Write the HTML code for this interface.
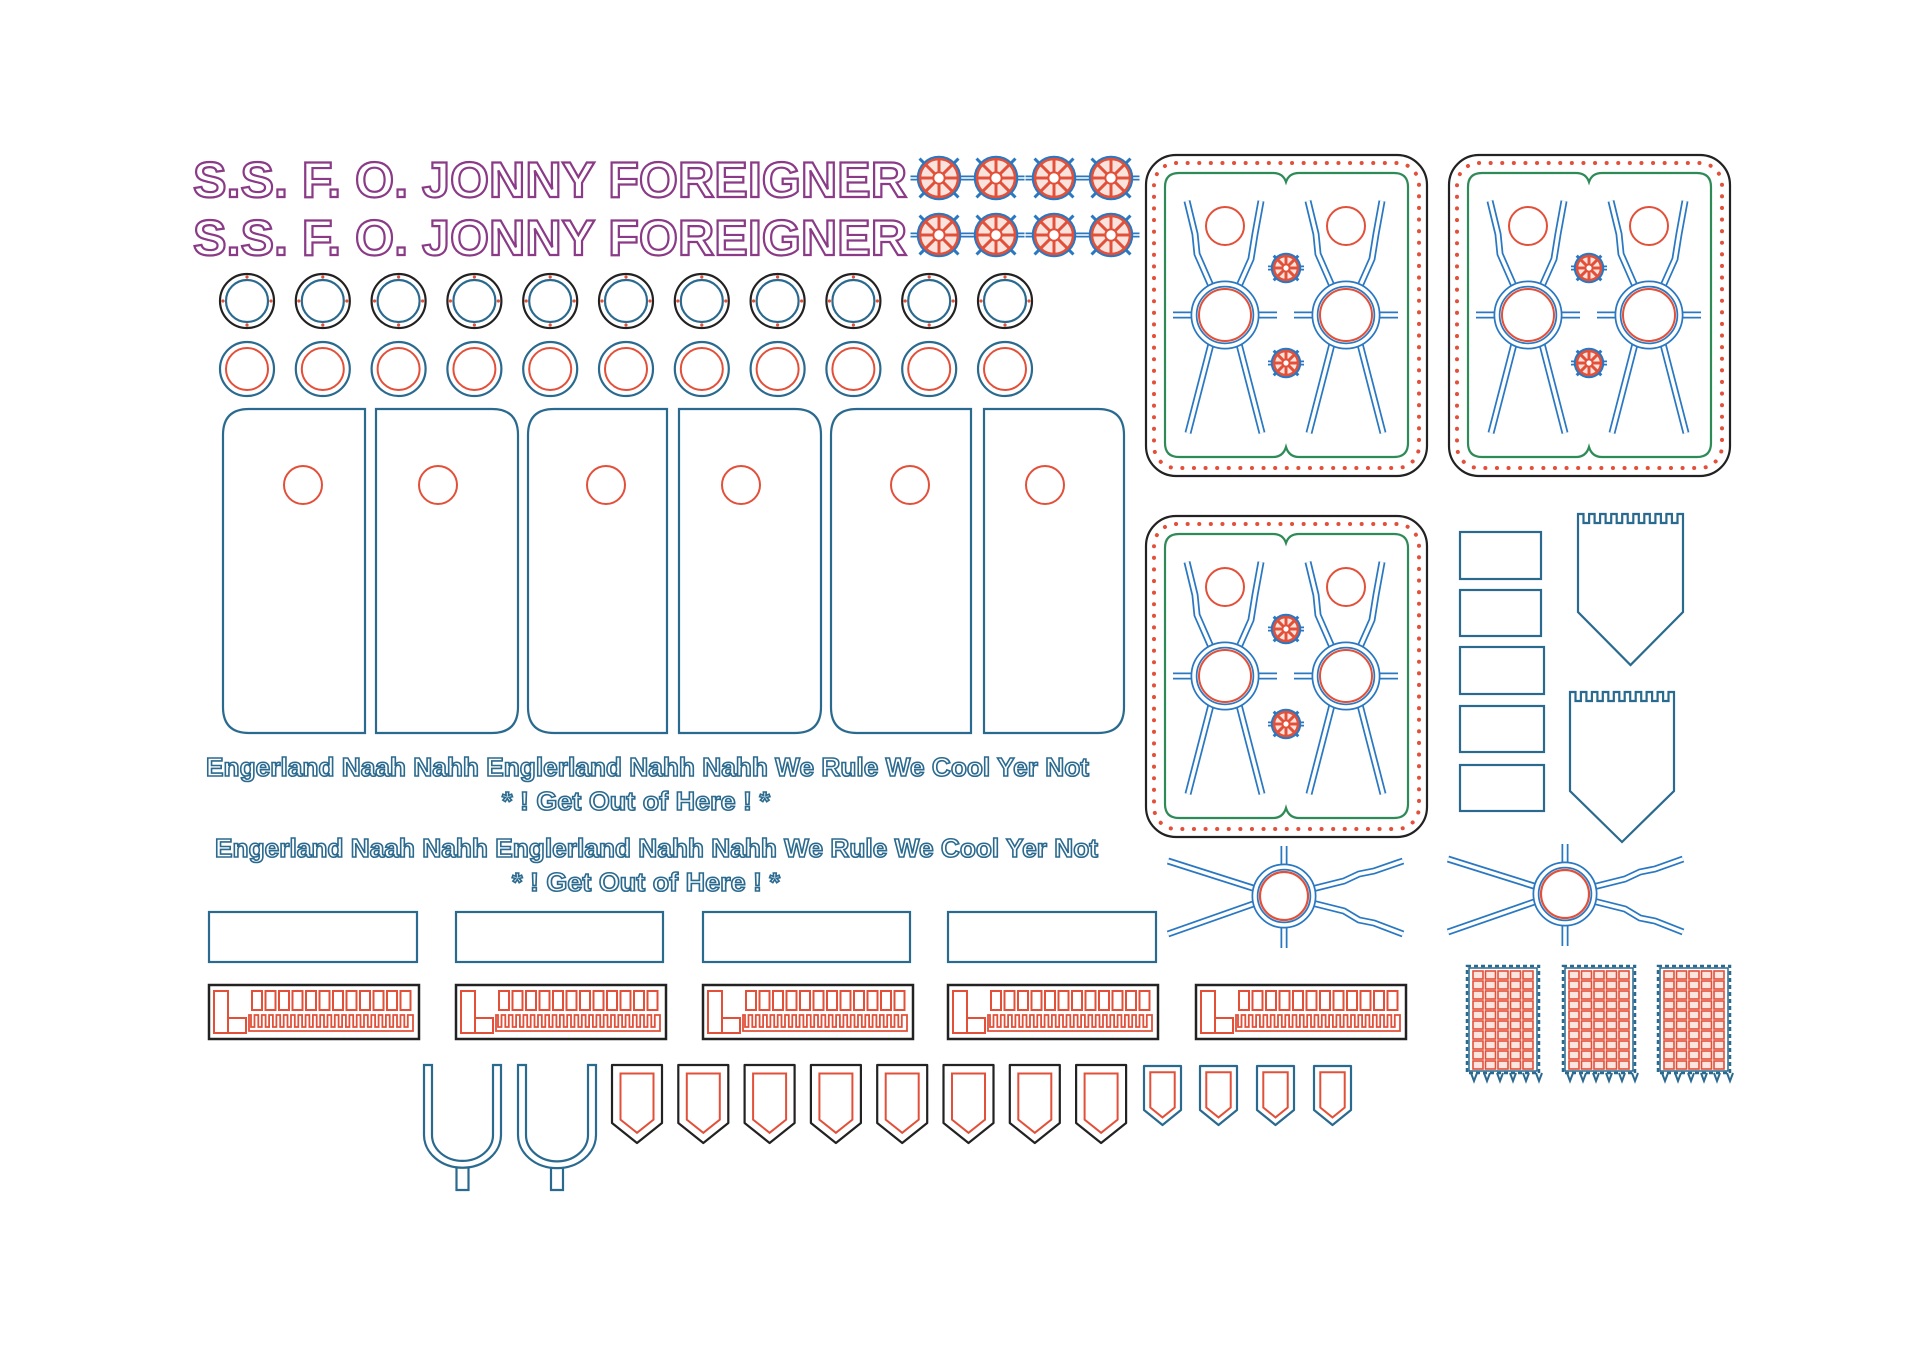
<!DOCTYPE html>
<html><head><meta charset="utf-8"><style>
html,body{margin:0;padding:0;background:#fff;}
svg{display:block;}
.t{font-family:"Liberation Sans",sans-serif;font-weight:bold;fill:#fff;}
</style></head><body>
<svg id="s" width="1920" height="1357" viewBox="0 0 1920 1357" xmlns="http://www.w3.org/2000/svg">
<rect width="1920" height="1357" fill="#fff"/>
<g id="shapes"></g>
<text class="t" x="193" y="197" font-size="50" textLength="714" lengthAdjust="spacingAndGlyphs" stroke="#8a3a86" stroke-width="2.2">S.S.  F. O.  JONNY  FOREIGNER</text>
<text class="t" x="193" y="255" font-size="50" textLength="714" lengthAdjust="spacingAndGlyphs" stroke="#8a3a86" stroke-width="2.2">S.S.  F. O.  JONNY  FOREIGNER</text>
<text class="t" x="206" y="776" font-size="26" textLength="883" lengthAdjust="spacingAndGlyphs" stroke="#2b6a8f" stroke-width="1.6">Engerland Naah Nahh Englerland Nahh Nahh We Rule We Cool Yer Not</text>
<text class="t" x="502" y="810" font-size="26" textLength="268" lengthAdjust="spacingAndGlyphs" stroke="#2b6a8f" stroke-width="1.6">*  ! Get Out of Here ! *</text>
<text class="t" x="215" y="857" font-size="26" textLength="883" lengthAdjust="spacingAndGlyphs" stroke="#2b6a8f" stroke-width="1.6">Engerland Naah Nahh Englerland Nahh Nahh We Rule We Cool Yer Not</text>
<text class="t" x="512" y="891" font-size="26" textLength="268" lengthAdjust="spacingAndGlyphs" stroke="#2b6a8f" stroke-width="1.6">*  ! Get Out of Here ! *</text>
</svg>
<script>
var o=[];
var DB='#2b6a8f',BL='#2a78c2',RD='#e2503a',GR='#2e8b57',BK='#222';
function p(s){o.push(s);}
function dbl(d,w){p('<path d="'+d+'" fill="none" stroke="'+BL+'" stroke-width="'+(w||7)+'" stroke-linejoin="round"/>');p('<path d="'+d+'" fill="none" stroke="#fff" stroke-width="'+((w||7)-3.5)+'" stroke-linejoin="round"/>');}
function dblc(cx,cy,r,w){p('<circle cx="'+cx+'" cy="'+cy+'" r="'+r+'" fill="none" stroke="'+BL+'" stroke-width="'+(w||7)+'"/>');p('<circle cx="'+cx+'" cy="'+cy+'" r="'+r+'" fill="none" stroke="#fff" stroke-width="'+((w||7)-3.5)+'"/>');}
function wheel(cx,cy,r){
 var b=r*1.5;
 dbl('M'+(cx-b)+' '+cy+'H'+(cx+b),5);
 for(var k=0;k<4;k++){var a=Math.PI/4+k*Math.PI/2;p('<line x1="'+cx+'" y1="'+cy+'" x2="'+(cx+Math.cos(a)*r*1.45)+'" y2="'+(cy+Math.sin(a)*r*1.45)+'" stroke="'+BL+'" stroke-width="3"/>');}
 p('<circle cx="'+cx+'" cy="'+cy+'" r="'+(r+2)+'" fill="none" stroke="'+BL+'" stroke-width="2.5"/>');
 p('<circle cx="'+cx+'" cy="'+cy+'" r="'+r+'" fill="#fbe3dd" stroke="'+RD+'" stroke-width="2.5"/>');
 for(var k=0;k<4;k++){var a=k*Math.PI/4;p('<line x1="'+(cx-Math.cos(a)*r)+'" y1="'+(cy-Math.sin(a)*r)+'" x2="'+(cx+Math.cos(a)*r)+'" y2="'+(cy+Math.sin(a)*r)+'" stroke="'+RD+'" stroke-width="3"/>');}
 p('<circle cx="'+cx+'" cy="'+cy+'" r="'+(r*0.3)+'" fill="#fff" stroke="'+RD+'" stroke-width="2"/>');
}
// title wheels
[939,996,1054,1111].forEach(function(x){[178,235].forEach(function(y){wheel(x,y,19);});});
// rings
for(var i=0;i<11;i++){var cx=247+75.8*i;
 p('<circle cx="'+cx+'" cy="301" r="27" fill="none" stroke="'+BK+'" stroke-width="2.2"/>');
 p('<circle cx="'+cx+'" cy="301" r="21" fill="none" stroke="'+DB+'" stroke-width="2.2"/>');
 [[0,-24],[0,24],[-24,0],[24,0]].forEach(function(d){p('<circle cx="'+(cx+d[0])+'" cy="'+(301+d[1])+'" r="1.6" fill="'+RD+'"/>');});
 p('<circle cx="'+cx+'" cy="369" r="27" fill="none" stroke="'+DB+'" stroke-width="2.2"/>');
 p('<circle cx="'+cx+'" cy="369" r="21" fill="none" stroke="'+RD+'" stroke-width="2"/>');
}
// doors
var doors=[[223,365,'L',303],[376,518,'R',438],[528,667,'L',606],[679,821,'R',741],[831,971,'L',910],[984,1124,'R',1045]];
doors.forEach(function(d){var x1=d[0],x2=d[1],y1=409,y2=733,r=26,s;
 if(d[2]=='L')s='M'+x2+' '+y1+'H'+(x1+r)+'Q'+x1+' '+y1+' '+x1+' '+(y1+r)+'V'+(y2-r)+'Q'+x1+' '+y2+' '+(x1+r)+' '+y2+'H'+x2+'Z';
 else s='M'+x1+' '+y1+'H'+(x2-r)+'Q'+x2+' '+y1+' '+x2+' '+(y1+r)+'V'+(y2-r)+'Q'+x2+' '+y2+' '+(x2-r)+' '+y2+'H'+x1+'Z';
 p('<path d="'+s+'" fill="none" stroke="'+DB+'" stroke-width="2.2"/>');
 p('<circle cx="'+d[3]+'" cy="485" r="19" fill="none" stroke="'+RD+'" stroke-width="2"/>');
});
// big panels
function panel(X,Y){
 p('<g transform="translate('+X+','+Y+')">');
 p('<rect x="1" y="1" width="281" height="321" rx="30" fill="none" stroke="'+BK+'" stroke-width="2.2"/>');
 p('<rect x="9" y="9" width="265" height="305" rx="22" fill="none" stroke="'+RD+'" stroke-width="4" stroke-dasharray="0.1 11.5" stroke-linecap="round"/>');
 p('<path d="M34 19H128Q138 19 141 28Q144 19 154 19H249Q263 19 263 33V289Q263 303 249 303H154Q144 303 141 293Q138 303 128 303H34Q20 303 20 289V33Q20 19 34 19Z" fill="none" stroke="'+GR+'" stroke-width="2.2"/>');
 [80,201].forEach(function(cx){
  dbl('M'+(cx-14)+' 190L'+(cx-37)+' 279');dbl('M'+(cx+14)+' 190L'+(cx+37)+' 279');
  dbl('M'+(cx-14)+' 132L'+(cx-28)+' 100L'+(cx-30)+' 80L'+(cx-38)+' 47');
  dbl('M'+(cx+14)+' 132L'+(cx+26)+' 105L'+(cx+30)+' 80L'+(cx+36)+' 47');
  dbl('M'+(cx-52)+' 161H'+(cx-33));dbl('M'+(cx+33)+' 161H'+(cx+52));
  dblc(cx,161,31);
  p('<circle cx="'+cx+'" cy="161" r="26" fill="none" stroke="'+RD+'" stroke-width="2"/>');
  p('<circle cx="'+cx+'" cy="72" r="19" fill="none" stroke="'+RD+'" stroke-width="2"/>');
 });
 wheel(141,114,12);wheel(141,209,12);
 p('</g>');
}
panel(1145,154);panel(1448,154);panel(1145,515);
// right small rects
[[1460,532,1541,579],[1460,590,1541,636],[1460,647,1544,694],[1460,706,1544,752],[1460,765,1544,811]].forEach(function(r){
 p('<rect x="'+r[0]+'" y="'+r[1]+'" width="'+(r[2]-r[0])+'" height="'+(r[3]-r[1])+'" fill="none" stroke="'+DB+'" stroke-width="2.2"/>');});
function tower(x1,x2,yt,ys,yp){var n=10,w=(x2-x1)/(2*n-1),s='M'+x1+' '+yt;
 for(var i=0;i<2*n-1;i++){var xa=x1+w*(i+1);if(i%2==0){s+='H'+xa.toFixed(1);}else{s+='V'+(yt+9)+'H'+xa.toFixed(1)+'V'+yt;}}
 s+='V'+ys+'L'+((x1+x2)/2)+' '+yp+'L'+x1+' '+ys+'Z';
 p('<path d="'+s+'" fill="none" stroke="'+DB+'" stroke-width="2.2"/>');}
tower(1578,1683,514,612,665);tower(1570,1674,692,791,842);
// connectors
function conn(cx,cy,l,r){
 dbl('M'+(cx-28)+' '+(cy-7)+'L'+l+' '+(cy-35));dbl('M'+(cx-28)+' '+(cy+7)+'L'+l+' '+(cy+38));
 dbl('M'+(cx+28)+' '+(cy-7)+'L'+(cx+60)+' '+(cy-15)+'L'+(cx+75)+' '+(cy-22)+'L'+(cx+90)+' '+(cy-25)+'L'+r+' '+(cy-35));
 dbl('M'+(cx+28)+' '+(cy+7)+'L'+(cx+60)+' '+(cy+15)+'L'+(cx+75)+' '+(cy+24)+'L'+(cx+90)+' '+(cy+27)+'L'+r+' '+(cy+38));
 dbl('M'+cx+' '+(cy-50)+'V'+(cy-30));dbl('M'+cx+' '+(cy+30)+'V'+(cy+52));
 dblc(cx,cy,29);
 p('<circle cx="'+cx+'" cy="'+cy+'" r="24" fill="none" stroke="'+RD+'" stroke-width="2.2"/>');}
conn(1284,896,1168,1403);conn(1565,894,1448,1683);
// grilles
[1467,1563,1658].forEach(function(x){var w=72,y=966,h=107;
 p('<rect x="'+x+'" y="'+y+'" width="'+w+'" height="'+h+'" fill="none" stroke="'+DB+'" stroke-width="2.5" stroke-dasharray="4 3"/>');
 p('<rect x="'+(x+2)+'" y="'+(y+2)+'" width="'+(w-4)+'" height="'+(h-4)+'" fill="none" stroke="'+DB+'" stroke-width="1.5"/>');
 for(var k=0;k<6;k++)p('<path d="M'+(x+4+k*13)+' '+(y+h)+'l3 8l3 -8" fill="none" stroke="'+DB+'" stroke-width="2"/>');
 for(var c=0;c<5;c++)for(var r=0;r<10;r++)p('<rect x="'+(x+6+c*12.5)+'" y="'+(y+5+r*10)+'" width="10" height="8" fill="#fde5df" stroke="'+RD+'" stroke-width="1.6"/>');
});
// blank rects
[[209,417],[456,663],[703,910],[948,1156]].forEach(function(r){p('<rect x="'+r[0]+'" y="912" width="'+(r[1]-r[0])+'" height="50" fill="none" stroke="'+DB+'" stroke-width="2.2"/>');});
// red strips
[209,456,703,948,1196].forEach(function(x){var y=985,w=210,h=54;
 p('<rect x="'+x+'" y="'+y+'" width="'+w+'" height="'+h+'" fill="none" stroke="'+BK+'" stroke-width="2.5"/>');
 p('<rect x="'+(x+5)+'" y="'+(y+6)+'" width="14" height="42" fill="none" stroke="'+RD+'" stroke-width="2"/>');
 p('<rect x="'+(x+19)+'" y="'+(y+33)+'" width="18" height="15" fill="none" stroke="'+RD+'" stroke-width="2"/>');
 for(var k=0;k<12;k++)p('<rect x="'+(x+43+k*13.5)+'" y="'+(y+6)+'" width="10" height="19" fill="none" stroke="'+RD+'" stroke-width="2"/>');
 var s='M'+(x+40)+' '+(y+46)+'V'+(y+30);for(var k=0;k<22;k++){var xx=x+42+k*7.3;s+='H'+xx.toFixed(1)+'V'+(y+42)+'H'+(xx+3.5).toFixed(1)+'V'+(y+30);}s+='H'+(x+204)+'V'+(y+46)+'Z';
 p('<path d="'+s+'" fill="none" stroke="'+RD+'" stroke-width="1.8"/>');
});
// U shapes
[[424,501],[518,596]].forEach(function(u){var a=u[0],b=u[1],m=(a+b)/2,r=(b-a)/2,y=1065,yb=1135;
 p('<path d="M'+a+' '+y+'V'+yb+'A'+r+' '+(r*0.85)+' 0 0 0 '+b+' '+yb+'V'+y+'H'+(b-8)+'V'+yb+'A'+(r-8)+' '+((r-8)*0.85)+' 0 0 1 '+(a+8)+' '+yb+'V'+y+'Z" fill="none" stroke="'+DB+'" stroke-width="2.2"/>');
 p('<path d="M'+(m-6)+' '+(yb+r*0.85-1)+'V1190H'+(m+6)+'V'+(yb+r*0.85-1)+'" fill="none" stroke="'+DB+'" stroke-width="2.2"/>');
});
// shields
function shield(x,w,yt,ys,yp,oc){var m=x+w/2;
 p('<path d="M'+x+' '+yt+'H'+(x+w)+'V'+ys+'L'+m+' '+yp+'L'+x+' '+ys+'Z" fill="none" stroke="'+oc+'" stroke-width="2.2" stroke-linejoin="round"/>');
 var i=w*0.17;p('<path d="M'+(x+i)+' '+(yt+i)+'H'+(x+w-i)+'V'+(ys-i*0.4)+'L'+m+' '+(yp-i*1.2)+'L'+(x+i)+' '+(ys-i*0.4)+'Z" fill="none" stroke="'+RD+'" stroke-width="2"/>');}
for(var i=0;i<8;i++)shield(612+66.3*i,50,1065,1123,1143,BK);
[1144,1200,1257,1314].forEach(function(x){shield(x,37,1066,1110,1125,DB);});
document.getElementById('shapes').innerHTML=o.join('');
</script>
</body></html>
